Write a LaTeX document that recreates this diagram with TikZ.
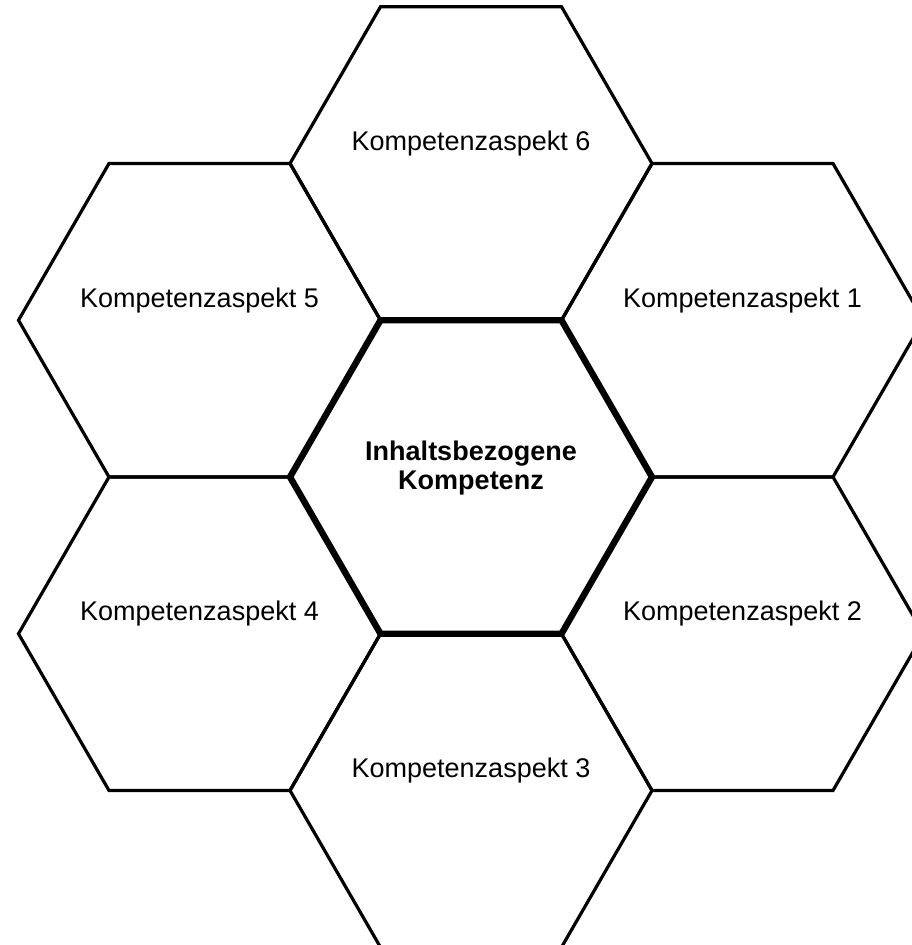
\documentclass[tikz,border=0pt]{standalone}
\usepackage{fontspec}
\setmainfont{Liberation Sans}
\usepackage{tikz}
\usetikzlibrary{calc,positioning,shapes.geometric}

\begin{document}
\begin{tikzpicture}[x=0.5pt,y=0.5pt,
		hexa/.style={regular polygon,regular polygon sides=6,minimum size=181pt,inner sep=0pt,outer sep=0pt,draw,line width=1.6pt,line join=miter},
		mitte/.style={hexa,line width=3.2pt},
		schrift/.style={font=\fontsize{13.5}{14.5}\selectfont,align=center,inner sep=0pt}]
		\useasboundingbox (-471,-468) rectangle (440,477);
		\begin{scope}
			% aeussere Waben
			\foreach \i/\a in {1/30,2/-30,3/-90,4/-150,5/150,6/90}{
				\node(k\i) [hexa] at (\a:313.5) {};
				\node(t\i) [schrift,above=3.5pt of k\i.center] {Kompetenzaspekt \i};
			}
			% Mitte
			\node(mitte) [mitte] at (0,0) {};
			\node(tm) [schrift,above=-9.5pt of mitte.center] {\bfseries Inhaltsbezogene\\\bfseries Kompetenz};
		\end{scope}
	\end{tikzpicture}
\end{document}
